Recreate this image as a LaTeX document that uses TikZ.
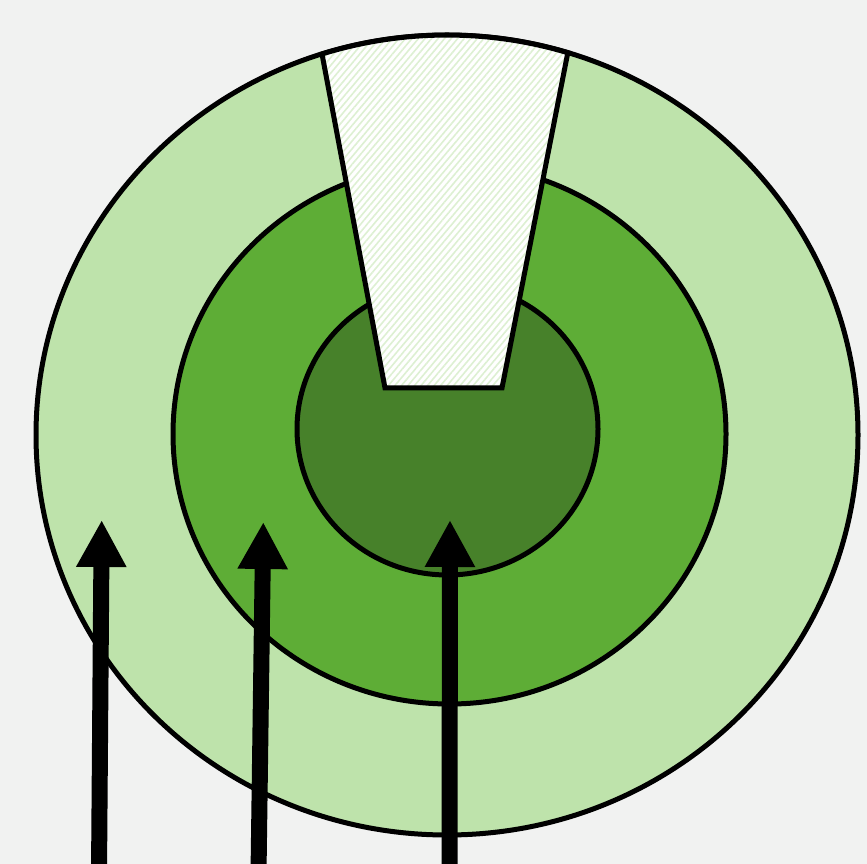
\documentclass[tikz,border=0pt]{standalone}
\usepackage{tikz}
\usetikzlibrary{arrows.meta,patterns.meta}
\definecolor{bgGray}{HTML}{F1F2F1}
\definecolor{ringLight}{HTML}{BEE3AB}
\definecolor{ringMid}{HTML}{5EAD36}
\definecolor{ringDark}{HTML}{47812A}
\definecolor{hatchGreen}{HTML}{DDF0D2}
\tikzset{
  ring/.style={draw=black,line width=5pt},
  pointer/.style={line width=16pt,-{Triangle[width=47pt,length=47pt]}}
}

\begin{document}
\begin{tikzpicture}[x=1pt,y=1pt]
  \fill[bgGray] (0,0) rectangle (867,864);
  \useasboundingbox (0,0) rectangle (867,864);
  % target rings
  \coordinate (cOuter) at (447,429);
  \coordinate (cMid) at (449.5,430);
  \coordinate (cInner) at (447.5,435);
  \draw[ring,fill=ringLight] (cOuter) ellipse [x radius=411,y radius=400];
  \draw[ring,fill=ringMid] (cMid) ellipse [x radius=276.5,y radius=270];
  \draw[ring,fill=ringDark] (cInner) ellipse [x radius=150.5,y radius=146];
  % cut-out wedge
  \path[fill=white] (385,476) -- (322,810)
    arc[start angle=107.7,end angle=72.9,x radius=411,y radius=400]
    -- (502,476) -- cycle;
  \path[pattern={Lines[angle=50,distance=5pt,line width=1.6pt]},pattern color=hatchGreen]
    (385,476) -- (322,810)
    arc[start angle=107.7,end angle=72.9,x radius=411,y radius=400]
    -- (502,476) -- cycle;
  \draw[ring,line join=miter] (385,476) -- (322,810)
    arc[start angle=107.7,end angle=72.9,x radius=411,y radius=400]
    -- (502,476) -- cycle;
  % arrows
  \foreach \i/\bx/\tx/\ty in {1/99/101.7/344, 2/258.5/263.3/342, 3/449.5/450/344}{%
    \coordinate (base\i) at (\bx,-10);
    \coordinate (tip\i) at (\tx,\ty);
    \draw[pointer] (base\i) -- (tip\i);
  }
\end{tikzpicture}
\end{document}
